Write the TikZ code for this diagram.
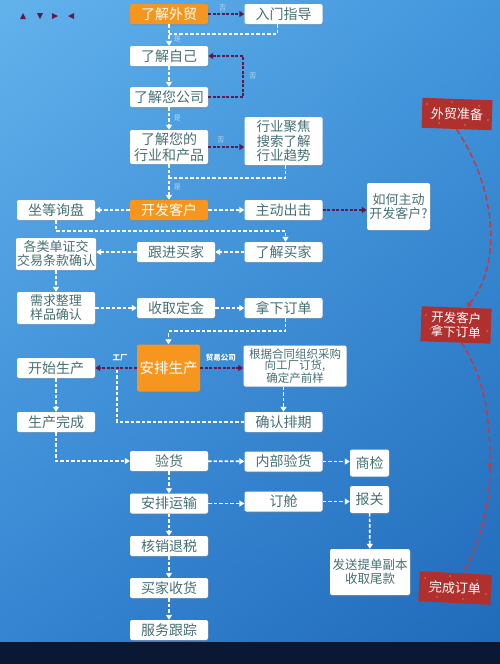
\documentclass[tikz,border=0pt]{standalone}
\usepackage{fontspec}
\setmainfont{Noto Sans CJK SC}
\usetikzlibrary{arrows.meta,calc,shadows,shadings}
\definecolor{textgray}{RGB}{70,112,116}
\definecolor{hotorange}{RGB}{247,150,30}
\definecolor{tagred}{RGB}{176,48,46}
\definecolor{plum}{RGB}{96,26,78}
\definecolor{arcred}{RGB}{192,58,72}
\definecolor{notecol}{RGB}{176,218,245}
\definecolor{navy}{RGB}{10,24,52}
\definecolor{bgtl}{RGB}{98,178,236}
\definecolor{bgtr}{RGB}{66,150,220}
\definecolor{bgbl}{RGB}{52,132,210}
\definecolor{bgbr}{RGB}{32,106,186}
\tikzset{box/.style={fill=white,rounded corners=2pt,text=textgray,minimum width=78pt,
   minimum height=20pt,inner sep=1pt,align=center,font=\fontsize{14}{15}\selectfont,
   drop shadow={opacity=0.3,shadow xshift=1pt,shadow yshift=-1.5pt}},
 hot/.style={box,fill=hotorange,text=white},
 tag/.style={fill=tagred,text=white,minimum width=70pt,minimum height=30pt,inner sep=1pt,
   align=center,font=\fontsize{13}{14}\selectfont},
 wline/.style={draw=white,line width=1.7pt,dash pattern=on 3.5pt off 2pt},
 pline/.style={draw=plum,line width=2.2pt,dash pattern=on 3pt off 1.5pt},
 rline/.style={draw=arcred,line width=1.5pt,dash pattern=on 6pt off 3pt},
 tip/.style={-{Triangle[width=6pt,length=5pt]}},
 note/.style={text=notecol,font=\fontsize{7}{7}\selectfont,inner sep=1pt},
 lab/.style={text=white,font=\fontsize{7.5}{8}\selectfont\bfseries,inner sep=1pt},
 }

\begin{document}
\begin{tikzpicture}[x=1pt,y=-1pt]
        % background
        \shade[upper left=bgtl,upper right=bgtr,lower left=bgbl,lower right=bgbr] (0,0) rectangle (500,642);
        \fill[navy] (0,642) rectangle (500,664);
        \useasboundingbox (0,0) rectangle (500,664);

        \fill[plum] (20,19) -- (26,19) -- (23,13) -- cycle;
        \fill[plum] (37,13) -- (43,13) -- (40,19) -- cycle;
        \fill[plum] (52,13) -- (52,19) -- (58,16) -- cycle;
        \fill[plum] (74,13) -- (74,19) -- (68,16) -- cycle;

        % preparation
        \node[hot] (trade) at (169,14) {了解外贸};
        \node[box] (intro) at (283.5,14) {入门指导};
        \node[box] (self) at (169,56) {了解自己};
        \node[box] (company) at (169,97) {了解您公司};
        \node[box,minimum height=34pt,font=\fontsize{14}{16}\selectfont] (industry) at (169,147) {了解您的\\行业和产品};
        \node[box,minimum height=48pt,font=\fontsize{13.5}{14.5}\selectfont] (focus) at (283.5,141) {行业聚焦\\搜索了解\\行业趋势};

        % customers
        \node[hot] (develop) at (169,210) {开发客户};
        \node[box] (wait) at (56,210) {坐等询盘};
        \node[box] (active) at (283.5,210) {主动出击};
        \node[box,minimum width=63pt,minimum height=47pt,font=\fontsize{13}{14}\selectfont] (how) at (398.5,206.5) {如何主动\\开发客户?};
        \node[box,minimum height=32pt,font=\fontsize{13}{14}\selectfont] (docs) at (56,254) {各类单证交\\交易条款确认};
        \node[box] (follow) at (176,252) {跟进买家};
        \node[box] (buyer) at (283.5,252) {了解买家};
        \node[box,minimum height=32pt,font=\fontsize{13}{14}\selectfont] (needs) at (56,308) {需求整理\\样品确认};
        \node[box] (deposit) at (176,308) {收取定金};
        \node[box] (order) at (283.5,308) {拿下订单};

        % production
        \node[hot,minimum width=63pt,minimum height=47pt,font=\fontsize{14.5}{15}\selectfont] (arrange) at (168.5,368) {安排生产};
        \node[box] (start) at (56,368) {开始生产};
        \node[box,minimum width=103pt,minimum height=41pt,font=\fontsize{11.5}{11}\selectfont] (contract) at (295,366) {根据合同组织采购\\向工厂订货,\\确定产前样};
        \node[box] (finish) at (56,422) {生产完成};
        \node[box] (confirm) at (283.5,422) {确认排期};

        % shipping
        \node[box] (check) at (169,461) {验货};
        \node[box] (inner) at (283.5,461.5) {内部验货};
        \node[box,minimum width=39pt,minimum height=27pt] (inspect) at (369.5,463) {商检};
        \node[box] (ship) at (169,503.5) {安排运输};
        \node[box] (booking) at (283.5,501.5) {订舱};
        \node[box,minimum width=39pt,minimum height=27pt] (customs) at (369.5,499.5) {报关};
        \node[box] (tax) at (169,546) {核销退税};
        \node[box] (receive) at (169,588) {买家收货};
        \node[box] (service) at (169,630) {服务跟踪};
        \node[box,minimum width=80pt,minimum height=46pt,font=\fontsize{12.5}{14}\selectfont] (bill) at (370,572) {发送提单副本\\收取尾款};

        % stages
        \node[tag,rotate=-2] (prep) at (457,114) {外贸准备};
        \node[tag,rotate=-2,minimum height=35pt,font=\fontsize{12.5}{14}\selectfont] (win) at (456,325) {开发客户\\拿下订单};
        \node[tag,rotate=-3,minimum width=72pt] (close) at (455,588) {完成订单};
        \foreach \t in {prep,win,close}
          \foreach \dx/\dy in {-30/-10,-18/9,-5/-12,8/11,22/-8,31/6,-26/4}
            \fill[white,opacity=0.7] ($(\t)+(\dx,\dy)$) circle (0.7);
        \coordinate (bend) at (490,468);
        \draw[rline,tip] (prep.south) .. controls (497,190) and (502,265) .. ([xshift=10pt]win.north);
        \draw[rline,tip] ([xshift=6pt]win.south) .. controls (486,380) and (490,420) .. (bend);
        \draw[rline] (bend) .. controls (490,510) and (478,545) .. ([xshift=8pt]close.north);

        % connectors
        \draw[pline,tip] (trade) -- node[note,above=1pt,pos=0.4] {否} (intro);
        \draw[wline,tip] (trade) -- node[note,right=3pt,pos=0.7] {是} (self);
        \draw[wline] ([xshift=-6pt]intro.south) |- ($(trade.south)!0.45!(self.north)$);
        \draw[wline,tip] (self) -- (company);
        \draw[pline,tip] (company.east) -- ++(35,0) |- node[note,right=4pt,pos=0.25] {否} (self.east);
        \draw[wline,tip] (company) -- node[note,right=3pt,pos=0.48] {是} (industry);
        \draw[pline,tip] (industry.east) -- node[note,above=2pt,pos=0.35] {否} (industry.east -| focus.west);
        \draw[wline] ([xshift=2pt]focus.south) |- ($(industry.south)!0.38!(develop.north)$);
        \draw[wline,tip] (industry) -- node[note,right=3pt,pos=0.65] {是} (develop);
        \draw[wline,tip] (develop) -- (wait);
        \draw[wline,tip] (develop) -- (active);
        \draw[pline,tip] (active.east) -- (active.east -| how.west);
        \draw[wline,tip] (wait.south) -- ++(0,11) -| ([xshift=2pt]buyer.north);
        \draw[wline,tip] (buyer) -- (follow);
        \draw[wline,tip] (follow.west) -- (follow.west -| docs.east);
        \draw[wline,tip] (docs) -- (needs);
        \draw[wline,tip] (needs.east) -- (needs.east -| deposit.west);
        \draw[wline,tip] (deposit) -- (order);
        \draw[wline,tip] ([xshift=2pt]order.south) -- ++(0,13) -| (arrange.north);
        \draw[pline,tip] (arrange) -- node[lab,above=5pt,pos=0.4] {工厂} (start);
        \draw[pline,tip] (arrange.east) -- node[lab,above=5pt,pos=0.48] {贸易公司} (arrange.east -| contract.west);
        \draw[wline,tip] (confirm.north |- contract.south) -- (confirm.north);
        \draw[wline] (confirm.west) -| ($(start.east)!0.52!(arrange.west)$);
        \draw[wline,tip] (start) -- (finish);
        \draw[wline,tip] (finish.south) |- (check.west);
        \draw[wline,tip] (check) -- (inner);
        \draw[wline,tip] (inner.east) -- (inner.east -| inspect.west);
        \draw[wline,tip] (check) -- (ship);
        \draw[wline,tip] (ship.east) -- (ship.east -| booking.west);
        \draw[wline,tip] (booking.east) -- (booking.east -| customs.west);
        \draw[wline,tip] (customs) -- (bill);
        \draw[wline,tip] (ship) -- (tax);
        \draw[wline,tip] (tax) -- (receive);
        \draw[wline,tip] (receive) -- (service);
    \end{tikzpicture}
\end{document}
